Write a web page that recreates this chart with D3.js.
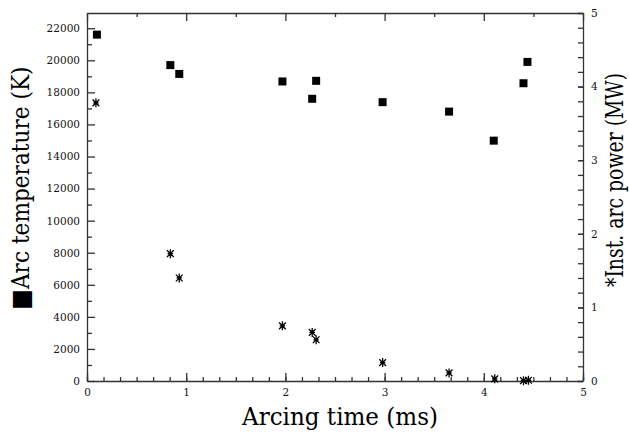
<!DOCTYPE html>
<html lang="en">
<head>
    <meta charset="UTF-8">
    <title>Arc temperature and power</title>
    <script src="https://d3js.org/d3.v7.min.js"></script>
    <style>
        body { margin: 0; background: #fff; }
        .axis path, .axis line { stroke: #333; stroke-width: 1.3; }
    </style>
</head>
<body>
<script>
    // arcing time (ms) for each measurement
    const timeT = [0.10, 0.84, 0.93, 1.97, 2.27, 2.31, 2.98, 3.65, 4.10, 4.40, 4.44];
    // arc temperature (K), squares
    const temperature = [21600, 19700, 19150, 18680, 17600, 18720, 17390, 16800, 14990, 18570, 19900];
    // arcing time (ms) for power points
    const timeP = [0.09, 0.84, 0.93, 1.97, 2.27, 2.31, 2.98, 3.65, 4.11, 4.40, 4.45];
    // instantaneous arc power (MW), asterisks
    const power = [3.78, 1.73, 1.40, 0.75, 0.66, 0.56, 0.25, 0.11, 0.03, 0.005, 0.01];

    const xTicks = [0, 1, 2, 3, 4, 5];
    const tTicks = [0, 2000, 4000, 6000, 8000, 10000, 12000, 14000, 16000, 18000, 20000, 22000];
    const pTicks = [0, 1, 2, 3, 4, 5];

    const serif = "DejaVu Serif";
    const W = 629, H = 434;
    const margin = {top: 13, right: 46, bottom: 53, left: 87};
    const width = W - margin.left - margin.right,
          height = H - margin.top - margin.bottom;

    const svg = d3.select("body").append("svg")
        .attr("width", W)
        .attr("height", H);

    const g = svg.append("g")
        .attr("transform", `translate(${margin.left},${margin.top})`);

    const x = d3.scaleLinear().domain([0, 5]).range([0, width]);
    const yT = d3.scaleLinear().domain([0, 22950]).range([height, 0]);
    const yP = d3.scaleLinear().domain([0, 5]).range([height, 0]);

    // minor ticks first
    const minorX = d3.range(0, 31).map(i => i / 6);
    g.append("g").attr("class", "axis")
        .attr("transform", `translate(0,${height})`)
        .call(d3.axisBottom(x).tickValues(minorX).tickSize(-4).tickFormat(""))
        .call(a => a.select(".domain").remove());
    g.append("g").attr("class", "axis")
        .call(d3.axisTop(x).tickValues(d3.range(0.5, 5, 1)).tickSize(-4).tickFormat(""))
        .call(a => a.select(".domain").remove());
    g.append("g").attr("class", "axis")
        .call(d3.axisLeft(yT).tickValues(d3.range(1000, 23000, 2000)).tickSize(-5).tickFormat(""))
        .call(a => a.select(".domain").remove());

    // main axes
    g.append("g").attr("class", "axis")
        .attr("transform", `translate(0,${height})`)
        .call(d3.axisBottom(x).tickValues(xTicks).tickSize(-8).tickPadding(8).tickSizeOuter(0).tickFormat(d3.format("d")));
    g.append("g").attr("class", "axis")
        .call(d3.axisTop(x).tickValues(xTicks).tickSize(-8).tickSizeOuter(0).tickFormat(""));
    g.append("g").attr("class", "axis")
        .call(d3.axisLeft(yT).tickValues(tTicks).tickSize(-8).tickPadding(7).tickSizeOuter(0).tickFormat(d3.format("d")));
    g.append("g").attr("class", "axis")
        .attr("transform", `translate(${width},0)`)
        .call(d3.axisRight(yP).tickValues(d3.range(0, 5.01, 0.2)).tickSize(-5).tickSizeOuter(0).tickFormat(""));
    g.append("g").attr("class", "axis")
        .attr("transform", `translate(${width},0)`)
        .call(d3.axisRight(yP).tickValues(pTicks).tickSize(-5).tickPadding(8).tickSizeOuter(0).tickFormat(d3.format("d")))
        .call(a => a.select(".domain").remove());

    g.selectAll(".axis")
        .attr("font-family", serif)
        .attr("font-size", 10.5);
    g.selectAll(".tick text").attr("fill", "#111");

    // temperature squares
    g.append("g")
        .selectAll("path")
        .data(temperature)
        .join("path")
        .attr("transform", (d, i) => `translate(${x(timeT[i])},${yT(d)})`)
        .attr("d", d3.symbol().type(d3.symbolSquare).size(64))
        .attr("fill", "#000");

    // power asterisks
    const star = {
        draw(ctx, size) {
            const r = Math.sqrt(size) / 2, d = r * 0.75;
            ctx.moveTo(0, -r); ctx.lineTo(0, r);
            ctx.moveTo(-d, -d); ctx.lineTo(d, d);
            ctx.moveTo(-d, d); ctx.lineTo(d, -d);
            ctx.moveTo(-r * 0.6, 0); ctx.lineTo(r * 0.6, 0);
        }
    };
    g.append("g")
        .selectAll("path")
        .data(power)
        .join("path")
        .attr("transform", (d, i) => `translate(${x(timeP[i])},${yP(d)})`)
        .attr("d", d3.symbol().type(star).size(81))
        .attr("fill", "none")
        .attr("stroke", "#000")
        .attr("stroke-width", 1.3);

    // axis titles (DejaVu Serif is wide, so squeeze to the original length)
    svg.append("text")
        .attr("x", 340)
        .attr("y", 425)
        .attr("text-anchor", "middle")
        .attr("font-family", serif)
        .attr("font-size", 25)
        .attr("textLength", 196)
        .attr("lengthAdjust", "spacingAndGlyphs")
        .text("Arcing time (ms)");

    svg.append("text")
        .attr("transform", "translate(29,188) rotate(-90)")
        .attr("text-anchor", "middle")
        .attr("font-family", serif)
        .attr("font-size", 25)
        .attr("textLength", 243)
        .attr("lengthAdjust", "spacingAndGlyphs")
        .text("\u25A0Arc temperature (K)");

    svg.append("text")
        .attr("transform", "translate(623,180) rotate(-90)")
        .attr("text-anchor", "middle")
        .attr("font-family", serif)
        .attr("font-size", 25)
        .attr("textLength", 214)
        .attr("lengthAdjust", "spacingAndGlyphs")
        .text("*Inst. arc power (MW)");
</script>
</body>
</html>
